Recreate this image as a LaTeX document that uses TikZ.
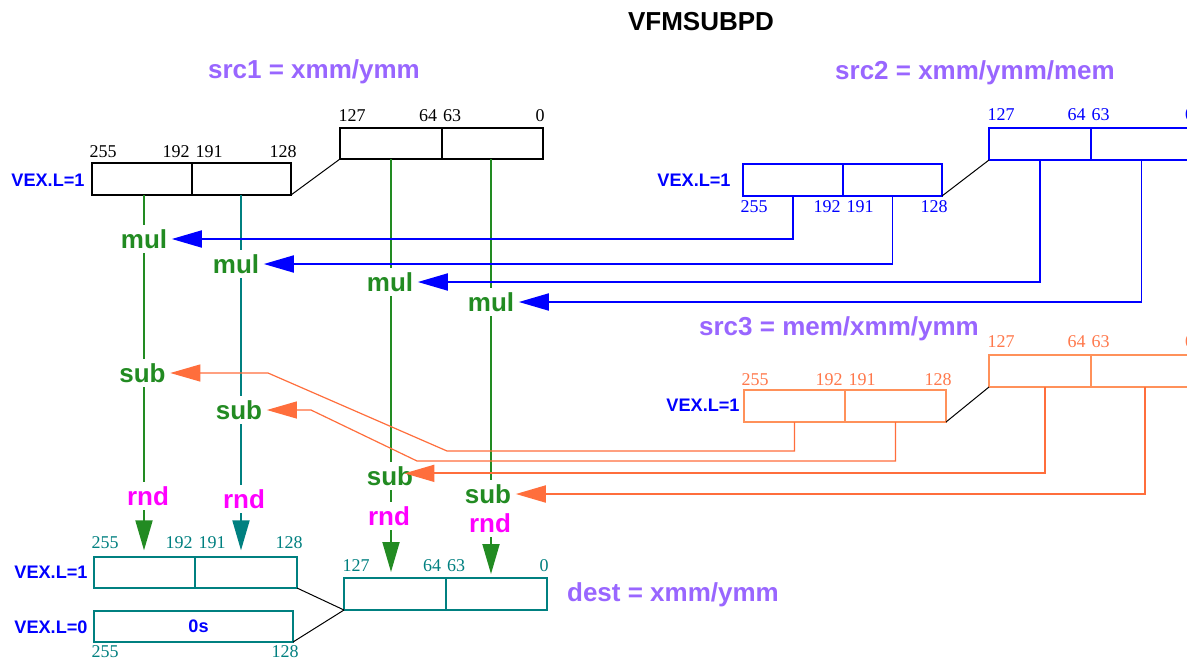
\documentclass[tikz,border=0pt]{standalone}
\usepackage{fontspec}
\setmainfont{Liberation Serif}
\setsansfont{Liberation Sans}
\usetikzlibrary{arrows.meta,calc}
\definecolor{mypurple}{RGB}{153,102,255}
\definecolor{mygreen}{RGB}{34,139,34}
\definecolor{myteal}{RGB}{0,128,128}
\definecolor{myblue}{RGB}{0,0,255}
\definecolor{mymagenta}{RGB}{255,0,255}
\definecolor{mycoral}{RGB}{255,110,60}
\definecolor{mycoralbox}{RGB}{255,145,90}
\definecolor{mycoraltxt}{RGB}{255,120,75}
\newcommand\lblfont{\fontsize{19.5pt}{22pt}\selectfont\sffamily\bfseries}
\newcommand\vexfont{\fontsize{13.6pt}{15pt}\selectfont\sffamily\bfseries}
\newcommand\bitfont{\fontsize{13.5pt}{15pt}\selectfont\rmfamily}
\tikzset{
  regbox/.style 2 args={draw, anchor=north west, inner sep=0pt, outer sep=0pt,
    minimum width=#1*0.75pt, minimum height=#2*0.75pt, line width=1.5pt},
  bitlbl/.style={font=\bitfont, inner sep=0pt},
  oplbl/.style={font=\lblfont, text=mygreen},
  rndlbl/.style={font=\lblfont, text=mymagenta},
  vexlbl/.style={font=\vexfont, text=myblue},
  srclbl/.style={font=\lblfont, text=mypurple},
  bigarrow/.style={-{Triangle[length=22.5pt,width=12.75pt]}},
  laneline/.style={line width=1.4pt},
  joinline/.style={line width=0.75pt, draw=black},
}
% labels of a ymm register (two halves)
\newcommand\ylabs[5]{%
  \node[bitlbl,text=#5] (#1-l1) at ($(#1.#3 west)+(11,#4)$) {255};
  \node[bitlbl,text=#5] (#1-l2) at ($(#1.#3 east)+(-16,#4)$) {192};
  \node[bitlbl,text=#5] (#2-l1) at ($(#2.#3 west)+(17,#4)$) {191};
  \node[bitlbl,text=#5] (#2-l2) at ($(#2.#3 east)+(-8,#4)$) {128};}
% labels of an xmm register (two halves)
\newcommand\xlabs[5]{%
  \node[bitlbl,text=#5] (#1-l1) at ($(#1.#3 west)+(12,#4)$) {127};
  \node[bitlbl,text=#5] (#1-l2) at ($(#1.#3 east)+(-14,#4)$) {64};
  \node[bitlbl,text=#5] (#2-l1) at ($(#2.#3 west)+(10,#4)$) {63};
  \node[bitlbl,text=#5] (#2-l2) at ($(#2.#3 east)+(-3,#4)$) {0};}
\begin{document}
\begin{tikzpicture}[x=0.75pt,y=-0.75pt]
\useasboundingbox (0,0) rectangle (1187,660);
\clip (0,0) rectangle (1187,660);
\fill[white] (0,0) rectangle (1187,660);

% titles
\node[font=\lblfont] (title) at (701,22) {VFMSUBPD};
\node[srclbl] (src1lbl) at (314,72) {src1 = xmm/ymm};
\node[srclbl] (src2lbl) at (975,73) {src2 = xmm/ymm/mem};
\node[srclbl] (src3lbl) at (839,329) {src3 = mem/xmm/ymm};
\node[srclbl] (destlbl) at (673,595) {dest = xmm/ymm};

% VEX labels
\node[vexlbl] (vex1) at (48,180) {VEX.L=1};
\node[vexlbl] (vex2) at (694,180) {VEX.L=1};
\node[vexlbl] (vex3) at (703,405) {VEX.L=1};
\node[vexlbl] (vex4) at (51,572) {VEX.L=1};
\node[vexlbl] (vex5) at (51,627) {VEX.L=0};

% src1
\node[regbox={100}{32}, draw=black] (s1a) at (92,163) {};
\node[regbox={99}{32}, draw=black] (s1b) at (192,163) {};
\node[regbox={102}{31}, draw=black] (s1c) at (340,128) {};
\node[regbox={101}{31}, draw=black] (s1d) at (442,128) {};
\draw[joinline] (s1b.south east) -- (s1c.south west);
\ylabs{s1a}{s1b}{north}{-11}{black}
\xlabs{s1c}{s1d}{north}{-12}{black}
\coordinate (lane1) at ([xshift=1.5pt]s1a.south);
\coordinate (lane2) at ([xshift=-0.375pt]s1b.south);
\coordinate (lane3) at (s1c.south);
\coordinate (lane4) at ([xshift=-1.125pt]s1d.south);

% src2
\node[regbox={100}{32}, draw=myblue] (s2a) at (743,164) {};
\node[regbox={99}{32}, draw=myblue] (s2b) at (843,164) {};
\node[regbox={101.5}{32}, draw=myblue] (s2c) at (989,128) {};
\node[regbox={102}{32}, draw=myblue] (s2d) at (1090.5,128) {};
\draw[joinline] (s2b.south east) -- (s2c.south west);
\ylabs{s2a}{s2b}{south}{11}{myblue}
\xlabs{s2c}{s2d}{north}{-13}{myblue}

% src3
\node[regbox={101}{32}, draw=mycoralbox] (s3a) at (744,390) {};
\node[regbox={101}{32}, draw=mycoralbox] (s3b) at (845,390) {};
\node[regbox={101.5}{32}, draw=mycoralbox] (s3c) at (989,355) {};
\node[regbox={102}{32}, draw=mycoralbox] (s3d) at (1090.5,355) {};
\draw[joinline] (s3b.south east) -- (s3c.south west);
\ylabs{s3a}{s3b}{north}{-10}{mycoraltxt}
\xlabs{s3c}{s3d}{north}{-13.5}{mycoraltxt}

% dest
\node[regbox={101}{31}, draw=myteal] (d1a) at (94,557) {};
\node[regbox={102}{31}, draw=myteal] (d1b) at (195,557) {};
\node[regbox={199}{31}, draw=myteal] (d0) at (94,611) {};
\node[regbox={102}{32}, draw=myteal] (dxa) at (344,578) {};
\node[regbox={101}{32}, draw=myteal] (dxb) at (446,578) {};
\node[vexlbl] (zeros) at ($(d0.center)+(5,0)$) {0s};
\draw[joinline] (d1b.south east) -- (dxa.south west);
\draw[joinline] (d0.south east) -- (dxa.south west);
\ylabs{d1a}{d1b}{north}{-14}{myteal}
\node[bitlbl,text=myteal] (d0-l1) at ($(d0.south west)+(11,10)$) {255};
\node[bitlbl,text=myteal] (d0-l2) at ($(d0.south east)+(-8,10)$) {128};
\xlabs{dxa}{dxb}{north}{-12}{myteal}

% operation labels
\node[oplbl] (mul1) at (144,239) {mul};
\node[oplbl] (mul2) at (236,264) {mul};
\node[oplbl] (mul3) at (390,282) {mul};
\node[oplbl] (mul4) at (491,302) {mul};
\node[oplbl] (sub1) at (142.5,373) {sub};
\node[oplbl] (sub2) at (239,410) {sub};
\node[oplbl] (sub3) at (390,476) {sub};
\node[oplbl] (sub4) at (488,494) {sub};
\node[rndlbl] (rnd1) at (148,496) {rnd};
\node[rndlbl] (rnd2) at (244,499) {rnd};
\node[rndlbl] (rnd3) at (389,516) {rnd};
\node[rndlbl] (rnd4) at (490,523) {rnd};

% lane 1
\draw[laneline, mygreen] (lane1) -- (lane1 |- mul1.north);
\draw[laneline, mygreen] (lane1 |- mul1.south) -- (lane1 |- sub1.north);
\draw[laneline, mygreen] (lane1 |- sub1.south) -- (lane1 |- rnd1.north);
\draw[laneline, bigarrow, mygreen, shorten >=5pt] (lane1 |- rnd1.south) -- (lane1 |- d1a.north);
% lane 2
\draw[laneline, myteal] (lane2) -- (lane2 |- mul2.north);
\draw[laneline, myteal] (lane2 |- mul2.south) -- (lane2 |- sub2.north);
\draw[laneline, myteal] (lane2 |- sub2.south) -- (lane2 |- rnd2.north);
\draw[laneline, bigarrow, myteal, shorten >=5pt] (lane2 |- rnd2.south) -- (lane2 |- d1b.north);
% lane 3
\draw[laneline, mygreen] (lane3) -- (lane3 |- mul3.north);
\draw[laneline, mygreen] (lane3 |- mul3.south) -- (lane3 |- sub3.north);
\draw[laneline, mygreen] (lane3 |- sub3.south) -- (lane3 |- rnd3.north);
\draw[laneline, bigarrow, mygreen, shorten >=4.5pt] (lane3 |- rnd3.south) -- (lane3 |- dxa.north);
% lane 4
\draw[laneline, mygreen] (lane4) -- (lane4 |- mul4.north);
\draw[laneline, mygreen] (lane4 |- mul4.south) -- (lane4 |- sub4.north);
\draw[laneline, bigarrow, mygreen, shorten >=3pt] (lane4 |- rnd4.south) -- (lane4 |- dxb.north);

% src2 -> mul
\draw[laneline, bigarrow, myblue] (s2a.south) |- (mul1);
\draw[laneline, bigarrow, myblue] (s2b.south) |- (mul2);
\draw[laneline, bigarrow, myblue] (s2c.south) |- (mul3);
\draw[laneline, bigarrow, myblue] (s2d.south) |- (mul4);

% src3 -> sub
\draw[line width=0.9pt, bigarrow, mycoral] (s3a.south) |- (447,451) -- (268,373) -- (sub1.east);
\draw[line width=0.9pt, bigarrow, mycoral] (s3b.south) |- (417,461) -- (311,410) -- (sub2.east);
\draw[laneline, bigarrow, mycoral] ([xshift=3.75pt]s3c.south) |- ([xshift=-10pt,yshift=2pt]sub3.east);
\draw[laneline, bigarrow, mycoral] ([xshift=2.5pt]s3d.south) |- (sub4.east);
\end{tikzpicture}
\end{document}
